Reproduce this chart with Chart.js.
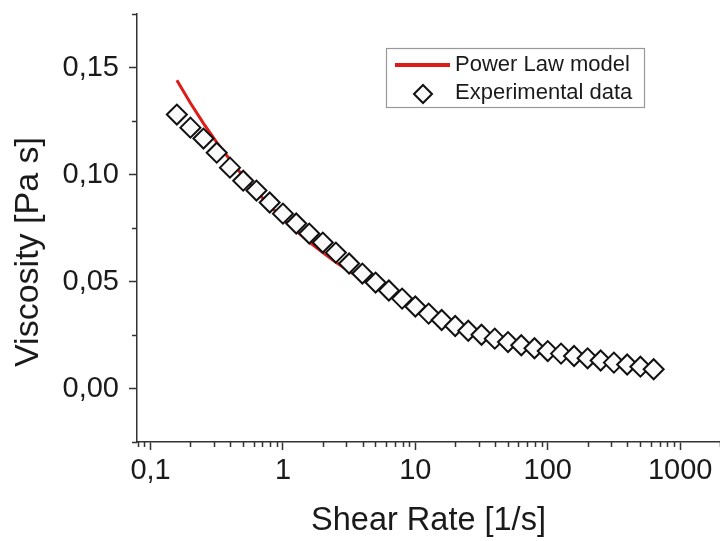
<!DOCTYPE html>
<html>
<head>
<meta charset="utf-8">
<script src="https://cdn.jsdelivr.net/npm/chart.js@4.4.1/dist/chart.umd.min.js"></script>
<style>
  body { margin: 0; background: #fff; }
  #wrap { width: 720px; height: 541px; position: relative; }
</style>
</head>
<body>
<div id="wrap"><canvas id="chart"></canvas></div>
<script>
// measured points, 10 per decade
const shearRate = [0.158, 0.2, 0.251, 0.316, 0.398, 0.501, 0.631, 0.794,
  1, 1.26, 1.58, 2, 2.51, 3.16, 3.98, 5.01, 6.31, 7.94,
  10, 12.6, 15.8, 20, 25.1, 31.6, 39.8, 50.1, 63.1, 79.4,
  100, 126, 158, 200, 251, 316, 398, 501, 631];
const viscosity = [0.128, 0.1219, 0.1168, 0.1102, 0.1032, 0.0971, 0.0925, 0.0869,
  0.0817, 0.0771, 0.0724, 0.0682, 0.0635, 0.0584, 0.0537, 0.0495, 0.0458, 0.0420,
  0.0383, 0.0350, 0.0320, 0.0292, 0.0270, 0.0251, 0.0233, 0.0217, 0.0202, 0.0188,
  0.0175, 0.0163, 0.0152, 0.0141, 0.0131, 0.0121, 0.0112, 0.0102, 0.0090];

// fitted power law curve
const modelShearRate = [0.158, 0.2, 0.251, 0.316, 0.398, 0.501, 0.631, 0.794,
  1, 1.26, 1.58, 2, 2.51, 3.16, 3.98, 5.01, 6.31, 7.94];
const modelViscosity = [0.144, 0.1334, 0.1239, 0.1150, 0.1069, 0.0992, 0.0921, 0.0855,
  0.0794, 0.0737, 0.0684, 0.0635, 0.0590, 0.0548, 0.0509, 0.0472, 0.0439, 0.0407];

const xTickValues = [0.1, 1, 10, 100, 1000];
const xTickLabels = ['0,1', '1', '10', '100', '1000'];
const xMinorTicks = [0.08, 0.09, 0.2, 0.3, 0.4, 0.5, 0.6, 0.7, 0.8, 0.9,
  2, 3, 4, 5, 6, 7, 8, 9, 20, 30, 40, 50, 60, 70, 80, 90,
  200, 300, 400, 500, 600, 700, 800, 900, 2000];
const yTickValues = [0, 0.05, 0.10, 0.15];
const yTickLabels = ['0,00', '0,05', '0,10', '0,15'];
const yMinorTicks = [-0.025, 0.025, 0.075, 0.125, 0.175];
const yTitle = 'Viscosity [Pa s]';

const FONT = "'Liberation Sans', Arial, sans-serif";
const INK = '#1a1a1a';
const AXIS = '#333';

const minorTicks = {
  id: 'minorTicks',
  afterDraw(chart) {
    const ctx = chart.ctx;
    const x = chart.scales.x, y = chart.scales.y;
    ctx.save();
    ctx.strokeStyle = AXIS;
    ctx.lineWidth = 1.5;
    ctx.beginPath();
    xMinorTicks.forEach(v => {
      if (v < x.min || v > x.max) return;
      const px = Math.round(x.getPixelForValue(v)) + 0.5;
      ctx.moveTo(px, x.top);
      ctx.lineTo(px, x.top + 5);
    });
    yMinorTicks.forEach(v => {
      const py = Math.round(y.getPixelForValue(v)) + 0.5;
      ctx.moveTo(y.right - 5, py);
      ctx.lineTo(y.right, py);
    });
    ctx.stroke();

    // y title sits a little below the middle of the axis in the original
    ctx.fillStyle = INK;
    ctx.font = '34px ' + FONT;
    ctx.textAlign = 'center';
    ctx.textBaseline = 'middle';
    ctx.translate(29, 252);
    ctx.rotate(-Math.PI / 2);
    ctx.fillText(yTitle, 0, 0);
    ctx.restore();
  }
};

const boxLegend = {
  id: 'boxLegend',
  afterDraw(chart) {
    const ctx = chart.ctx;
    const sets = chart.data.datasets;
    const line = sets.find(d => d.showLine);
    const pts = sets.find(d => !d.showLine);
    ctx.save();
    ctx.fillStyle = '#fff';
    ctx.fillRect(386, 48, 258, 59);
    ctx.strokeStyle = '#999';
    ctx.lineWidth = 1.2;
    ctx.strokeRect(386.5, 48.5, 258, 59);

    ctx.strokeStyle = line.borderColor;
    ctx.lineWidth = line.borderWidth + 1;
    ctx.beginPath();
    ctx.moveTo(395, 65);
    ctx.lineTo(450, 65);
    ctx.stroke();

    ctx.fillStyle = pts.backgroundColor;
    ctx.strokeStyle = pts.borderColor;
    ctx.lineWidth = pts.borderWidth;
    Chart.helpers.drawPoint(ctx, { pointStyle: 'rectRot', radius: 9, rotation: 0, borderWidth: pts.borderWidth }, 423, 94);

    ctx.fillStyle = INK;
    ctx.font = '22px ' + FONT;
    ctx.textBaseline = 'middle';
    ctx.fillText(line.label, 455, 65);
    ctx.fillText(pts.label, 455, 93);
    ctx.restore();
  }
};

new Chart(document.getElementById('chart'), {
  type: 'scatter',
  data: {
    datasets: [
      {
        label: 'Experimental data',
        data: shearRate.map((v, i) => ({ x: v, y: viscosity[i] })),
        showLine: false,
        pointStyle: 'rectRot',
        pointRadius: 10,
        borderWidth: 2,
        borderColor: '#111',
        backgroundColor: '#fafafa'
      },
      {
        label: 'Power Law model',
        data: modelShearRate.map((v, i) => ({ x: v, y: modelViscosity[i] })),
        showLine: true,
        pointRadius: 0,
        borderWidth: 3,
        borderColor: '#dd1c1a',
        tension: 0
      }
    ]
  },
  options: {
    responsive: true,
    maintainAspectRatio: false,
    animation: false,
    layout: { autoPadding: false, padding: { top: 14, right: 0, left: 0, bottom: 0 } },
    plugins: { legend: { display: false }, tooltip: { enabled: false } },
    scales: {
      x: {
        type: 'logarithmic',
        min: 0.079,
        max: 2000,
        afterBuildTicks: s => { s.ticks = xTickValues.map(v => ({ value: v })); },
        afterFit: s => { s.height = 99; s.paddingLeft = 0; s.paddingRight = 0; },
        border: { color: AXIS, width: 1.5 },
        grid: { drawOnChartArea: false, drawTicks: true, tickLength: 8, tickWidth: 1.5, tickColor: AXIS },
        ticks: {
          autoSkip: false, maxRotation: 0, padding: 4, color: INK,
          font: { family: FONT, size: 29 },
          callback: v => xTickLabels[xTickValues.indexOf(v)]
        },
        title: {
          display: true, text: 'Shear Rate [1/s]', color: INK,
          font: { family: FONT, size: 32.5 }, padding: { top: 0, bottom: 0 }
        }
      },
      y: {
        type: 'linear',
        min: -0.025,
        max: 0.175,
        afterBuildTicks: s => { s.ticks = yTickValues.map(v => ({ value: v })); },
        afterFit: s => { s.width = 137; s.paddingTop = 0; s.paddingBottom = 0; },
        border: { color: AXIS, width: 1.5 },
        grid: { drawOnChartArea: false, drawTicks: true, tickLength: 8, tickWidth: 1.5, tickColor: AXIS },
        ticks: {
          padding: 10, color: INK,
          font: { family: FONT, size: 29 },
          callback: v => yTickLabels[yTickValues.indexOf(v)]
        }
      }
    }
  },
  plugins: [minorTicks, boxLegend]
});
</script>
</body>
</html>
